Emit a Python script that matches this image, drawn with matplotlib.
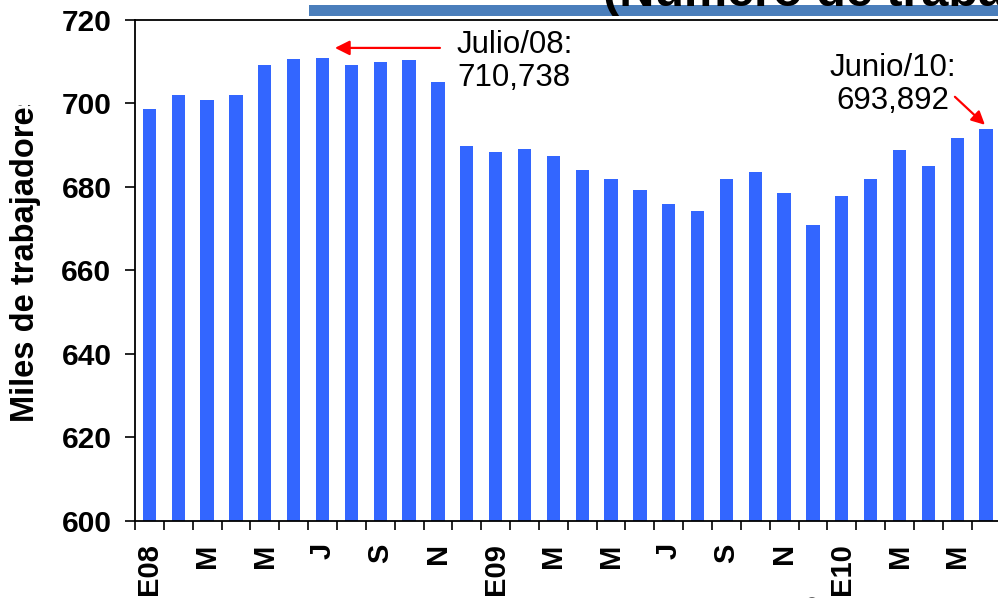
import matplotlib
matplotlib.use("Agg")
import matplotlib.pyplot as plt
from matplotlib.transforms import Bbox
from matplotlib.patches import Rectangle, Circle
import numpy as np

plt.rcParams['font.family'] = ['Liberation Sans', 'DejaVu Sans']

# Data (miles de trabajadores), Ene-2008 .. Jun-2010
months = ["E08", "F", "M", "A", "M", "J", "J", "A", "S", "O", "N", "D",
          "E09", "F", "M", "A", "M", "J", "J", "A", "S", "O", "N", "D",
          "E10", "F", "M", "A", "M", "J"]
values = [698.6, 702.0, 700.8, 702.0, 709.2, 710.5, 710.738, 709.2, 709.9, 710.4,
          705.1, 689.8, 688.4, 689.1, 687.4, 684.0, 681.9, 679.3, 675.9, 674.2,
          681.9, 683.6, 678.5, 670.9, 677.8, 681.9, 688.8, 685.0, 691.7, 693.892]
shown_labels = ["E08", "M", "M", "J", "S", "N", "E09", "M", "M", "J", "S", "N",
                "E10", "M", "M"]
yticks = [600, 620, 640, 660, 680, 700, 720]
title_text = "(Número de trabajadores)"
ylabel_text = "Miles de trabajadores"
ann1_text = "Julio/08:\n710,738"
ann2_text = "Junio/10:\n693,892"

W, H = 998, 598
fig = plt.figure(figsize=(W / 100, H / 100), dpi=100)

def fx(px):
    return px / W

def fy(py):
    return 1 - py / H

ax = fig.add_axes([fx(135), fy(521), fx(865.5), (521 - 19.5) / H])

x = np.arange(len(values))
ax.bar(x, [v - 600 for v in values], bottom=600, width=0.46, color="#3366FF", zorder=2)
ax.set_xlim(-0.5, len(values) - 0.5)
ax.set_ylim(600, 720)

ax.set_yticks(yticks)
ax.set_yticklabels([str(t) for t in yticks], fontsize=21.5, fontweight='bold')
ax.tick_params(axis='y', direction='out', length=7, width=1.2, pad=10)

ax.set_xticks(np.arange(-0.5, len(values), 1.0))
ax.set_xticklabels([])
ax.tick_params(axis='x', which='major', direction='out', length=6.5, width=1.2)
ax.set_xticks(np.arange(0, len(values), 2), minor=True)
ax.set_xticklabels(shown_labels, minor=True, rotation=90, fontsize=21, fontweight='bold')
ax.tick_params(axis='x', which='minor', length=0, pad=16)

for s in ['left', 'bottom', 'top']:
    ax.spines[s].set_linewidth(1.3)
ax.spines['right'].set_visible(False)

# y label (clipped at top like the original)
yl = fig.text(fx(26), fy(422), ylabel_text, rotation=90, ha='center', va='bottom',
              fontsize=23.5, fontweight='bold')
yl.set_clip_box(Bbox.from_extents(0, 0, W, H - 105))
yl.set_clip_on(True)

# header band and cut title
fig.patches.append(Rectangle((fx(309), fy(15.5)), fx(700), 10.5 / H, transform=fig.transFigure,
                             facecolor="#4A7EBB", edgecolor='none', zorder=1))
fig.text(fx(603), fy(6.5), title_text, ha='left', va='baseline', fontsize=35,
         fontweight='bold', zorder=3)
fig.patches.append(Circle((fx(812), fy(601)), 6 / W, transform=fig.transFigure,
                          facecolor='black', edgecolor='none'))

# annotations
ax.annotate("", xy=(6.43, 713.2), xytext=(10.07, 713.2),
            arrowprops=dict(arrowstyle='-|>', color='red', lw=1.6, mutation_scale=22,
                            shrinkA=0, shrinkB=0))
fig.text(fx(457), fy(30), ann1_text, ha='left', va='top', fontsize=22.5, linespacing=1.15)
ax.annotate("", xy=(28.96, 694.8), xytext=(27.92, 701.5),
            arrowprops=dict(arrowstyle='-|>', color='red', lw=1.6, mutation_scale=20,
                            shrinkA=0, shrinkB=0), annotation_clip=False)
fig.text(fx(893), fy(53), ann2_text, ha='center', va='top', fontsize=22.5,
         multialignment='center', linespacing=1.15)

fig.savefig("out.png", dpi=100)
